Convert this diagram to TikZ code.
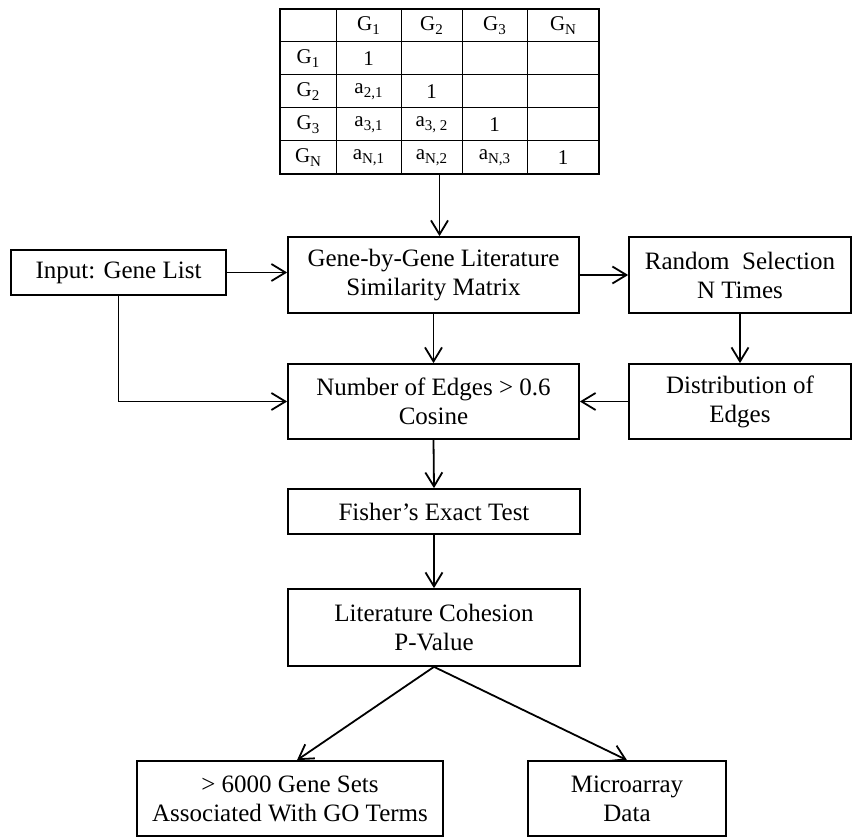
\documentclass[tikz,border=0pt]{standalone}
\usepackage{fontspec}
\setmainfont{Liberation Serif}
\usetikzlibrary{arrows.meta}
\newcommand{\ix}[1]{\raisebox{-0.4ex}{\fontsize{15}{15}\selectfont #1}}
\tikzset{box/.style={draw, line width=1.7pt, align=center, inner sep=0pt,
           font=\fontsize{25}{29}\selectfont},
         cell/.style={font=\fontsize{21}{21}\selectfont},
         link/.style={->, line width=1.8pt},
         >={Straight Barb[length=14pt,width=17pt,line width=1.8pt]}}

\begin{document}
\begin{tikzpicture}[x=1pt, y=-1pt]
  \useasboundingbox (0,0) rectangle (852,837);
  % similarity matrix
  \node (M) [draw, line width=1.9pt, minimum width=319, minimum height=165, inner sep=0pt] at (439.5,91.5) {};
  \foreach \x in {336,401,462,527} \draw[line width=1pt] (\x,9) -- (\x,174);
  \foreach \y in {42,75,108,141} \draw[line width=1pt] (280,\y) -- (599,\y);
  \node (c1) [cell] at (368.5,25.5) {G\ix{1}};
  \node (c2) [cell] at (431.5,25.5) {G\ix{2}};
  \node (c3) [cell] at (494.5,25.5) {G\ix{3}};
  \node (cN) [cell] at (563,25.5)   {G\ix{N}};
  \node (r1) [cell] at (308,58.5)   {G\ix{1}};
  \node (r2) [cell] at (308,91.5)   {G\ix{2}};
  \node (r3) [cell] at (308,124.5)  {G\ix{3}};
  \node (rN) [cell] at (308,157.5)  {G\ix{N}};
  \node (e11) [cell] at (368.5,58.5)  {1};
  \node (e21) [cell] at (368.5,91.5)  {a\ix{2,1}};
  \node (e22) [cell] at (431.5,91.5)  {1};
  \node (e31) [cell] at (368.5,124.5) {a\ix{3,1}};
  \node (e32) [cell] at (431.5,124.5) {a\ix{3, 2}};
  \node (e33) [cell] at (494.5,124.5) {1};
  \node (eN1) [cell] at (368.5,157.5) {a\ix{N,1}};
  \node (eN2) [cell] at (431.5,157.5) {a\ix{N,2}};
  \node (eN3) [cell] at (494.5,157.5) {a\ix{N,3}};
  \node (eNN) [cell] at (563,157.5)   {1};

  % flow boxes
  \node (In)   [box, minimum width=215, minimum height=45] at (118.5,272.5) {Input: Gene List};
  \node (Sim)  [box, minimum width=291, minimum height=76] at (433.5,275)   {Gene-by-Gene Literature\\Similarity Matrix};
  \node (Rnd)  [box, minimum width=222, minimum height=76] at (740,275)     {Random\ \ Selection\\N Times};
  \node (Num)  [box, minimum width=291, minimum height=75] at (433.5,401.5) {Number of Edges > 0.6\\Cosine};
  \node (Dist) [box, minimum width=222, minimum height=75] at (740,401.5)   {Distribution of\\Edges};
  \node (Fish) [box, minimum width=292, minimum height=45] at (434,511.5)   {Fisher’s Exact Test};
  \node (Coh)  [box, minimum width=292, minimum height=77] at (434,627.5)   {Literature Cohesion\\P-Value};
  \node (GO)   [box, minimum width=306, minimum height=75] at (290,798.5)   {> 6000 Gene Sets\\Associated With GO Terms};
  \node (Mic)  [box, minimum width=198, minimum height=75] at (627,798.5)   {Microarray\\Data};

  % connectors
  \draw[link] (M.south) -- (M.south |- Sim.north);
  \draw[link] (In.east) -- (In.east -| Sim.west);
  \draw[link] (Sim.east) -- (Rnd.west);
  \draw[link] (Sim.south) -- (Num.north);
  \draw[link] (Rnd.south) -- (Dist.north);
  \draw[link] (In.south) |- (Num.west);
  \draw[link] (Dist.west) -- (Num.east);
  \draw[link] (Num.south) -- (Fish.north);
  \draw[link] (Fish.south) -- (Coh.north);
  \draw[link] (Coh.south) -- ([xshift=7pt]GO.north);
  \draw[link] (Coh.south) -- (Mic.north);
\end{tikzpicture}
\end{document}
